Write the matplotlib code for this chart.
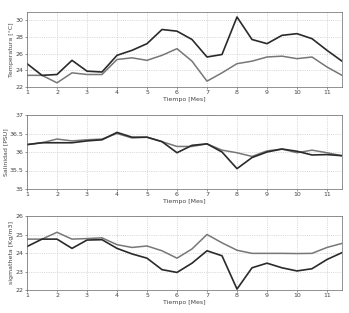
import numpy as np
import matplotlib.pyplot as plt

mes = np.arange(1, 12, 0.5)

temp_a = [24.8, 23.4, 23.5, 25.2, 23.9, 23.8, 25.8, 26.4, 27.2, 28.9, 28.7,
          27.7, 25.6, 25.9, 30.4, 27.7, 27.2, 28.2, 28.4, 27.8, 26.4, 25.1]
temp_b = [23.4, 23.4, 22.5, 23.7, 23.5, 23.5, 25.3, 25.5, 25.2, 25.8, 26.6,
          25.1, 22.7, 23.7, 24.8, 25.1, 25.6, 25.7, 25.4, 25.6, 24.4, 23.4]

sal_a = [36.2, 36.25, 36.25, 36.25, 36.3, 36.33, 36.53, 36.4, 36.4, 36.28, 35.98,
         36.18, 36.22, 36.0, 35.55, 35.85, 36.0, 36.08, 36.02, 35.92, 35.93, 35.9]
sal_b = [36.2, 36.25, 36.35, 36.3, 36.33, 36.35, 36.5, 36.38, 36.4, 36.28, 36.15,
         36.15, 36.22, 36.05, 35.98, 35.88, 36.03, 36.08, 35.98, 36.05, 35.98, 35.9]

sig_a = [24.35, 24.75, 24.75, 24.25, 24.7, 24.72, 24.25, 23.95, 23.72, 23.1, 22.95,
         23.45, 24.12, 23.85, 22.05, 23.2, 23.45, 23.2, 23.03, 23.15, 23.65, 24.02]
sig_b = [24.75, 24.75, 25.12, 24.75, 24.78, 24.82, 24.45, 24.3, 24.38, 24.12, 23.72,
         24.22, 25.0, 24.55, 24.15, 23.98, 23.98, 23.98, 23.97, 23.98, 24.3, 24.52]

paneles = [
    (temp_a, temp_b, 'Temperatura [°C]', (22, 31), [22, 24, 26, 28, 30], False),
    (sal_a, sal_b, 'Salinidad [PSU]', (35, 37), [35, 35.5, 36, 36.5, 37], True),
    (sig_a, sig_b, 'sigmatheta [Kg/m3]', (22, 26), [22, 23, 24, 25, 26], True),
]
# positions in figure fraction (left, bottom, width, height)
posiciones = [
    (27 / 349, 1 - 87 / 313, 315 / 349, 75 / 313),
    (27 / 349, 1 - 189 / 313, 315 / 349, 74 / 313),
    (27 / 349, 1 - 290 / 313, 315 / 349, 74 / 313),
]

fig = plt.figure(figsize=(3.49, 3.13), dpi=100)
for (a, b, ylab, ylim, yt, dark_on_top), pos in zip(paneles, posiciones):
    ax = fig.add_axes(pos)
    ax.plot(mes, b, color='#777777', lw=1.1)
    ax.plot(mes, a, color='#2a2a2a', lw=1.2)
    ax.set_xlim(1, 11.5)
    ax.set_ylim(*ylim)
    ax.set_xticks(range(1, 12))
    ax.set_yticks(yt)
    ax.set_yticklabels([f'{v:g}' for v in yt])
    ax.grid(True, linestyle=':', color='#bbbbbb', lw=0.5)
    ax.tick_params(labelsize=4.5, length=1.5, width=0.4, pad=1, colors='#444444')
    for s in ax.spines.values():
        s.set_linewidth(0.5)
        s.set_color('#666666')
    ax.set_xlabel('Tiempo [Mes]', fontsize=4.5, labelpad=1, color='#444444')
    ax.set_ylabel(ylab, fontsize=4.5, labelpad=1, color='#444444')

fig.savefig('out.png', dpi=100)
